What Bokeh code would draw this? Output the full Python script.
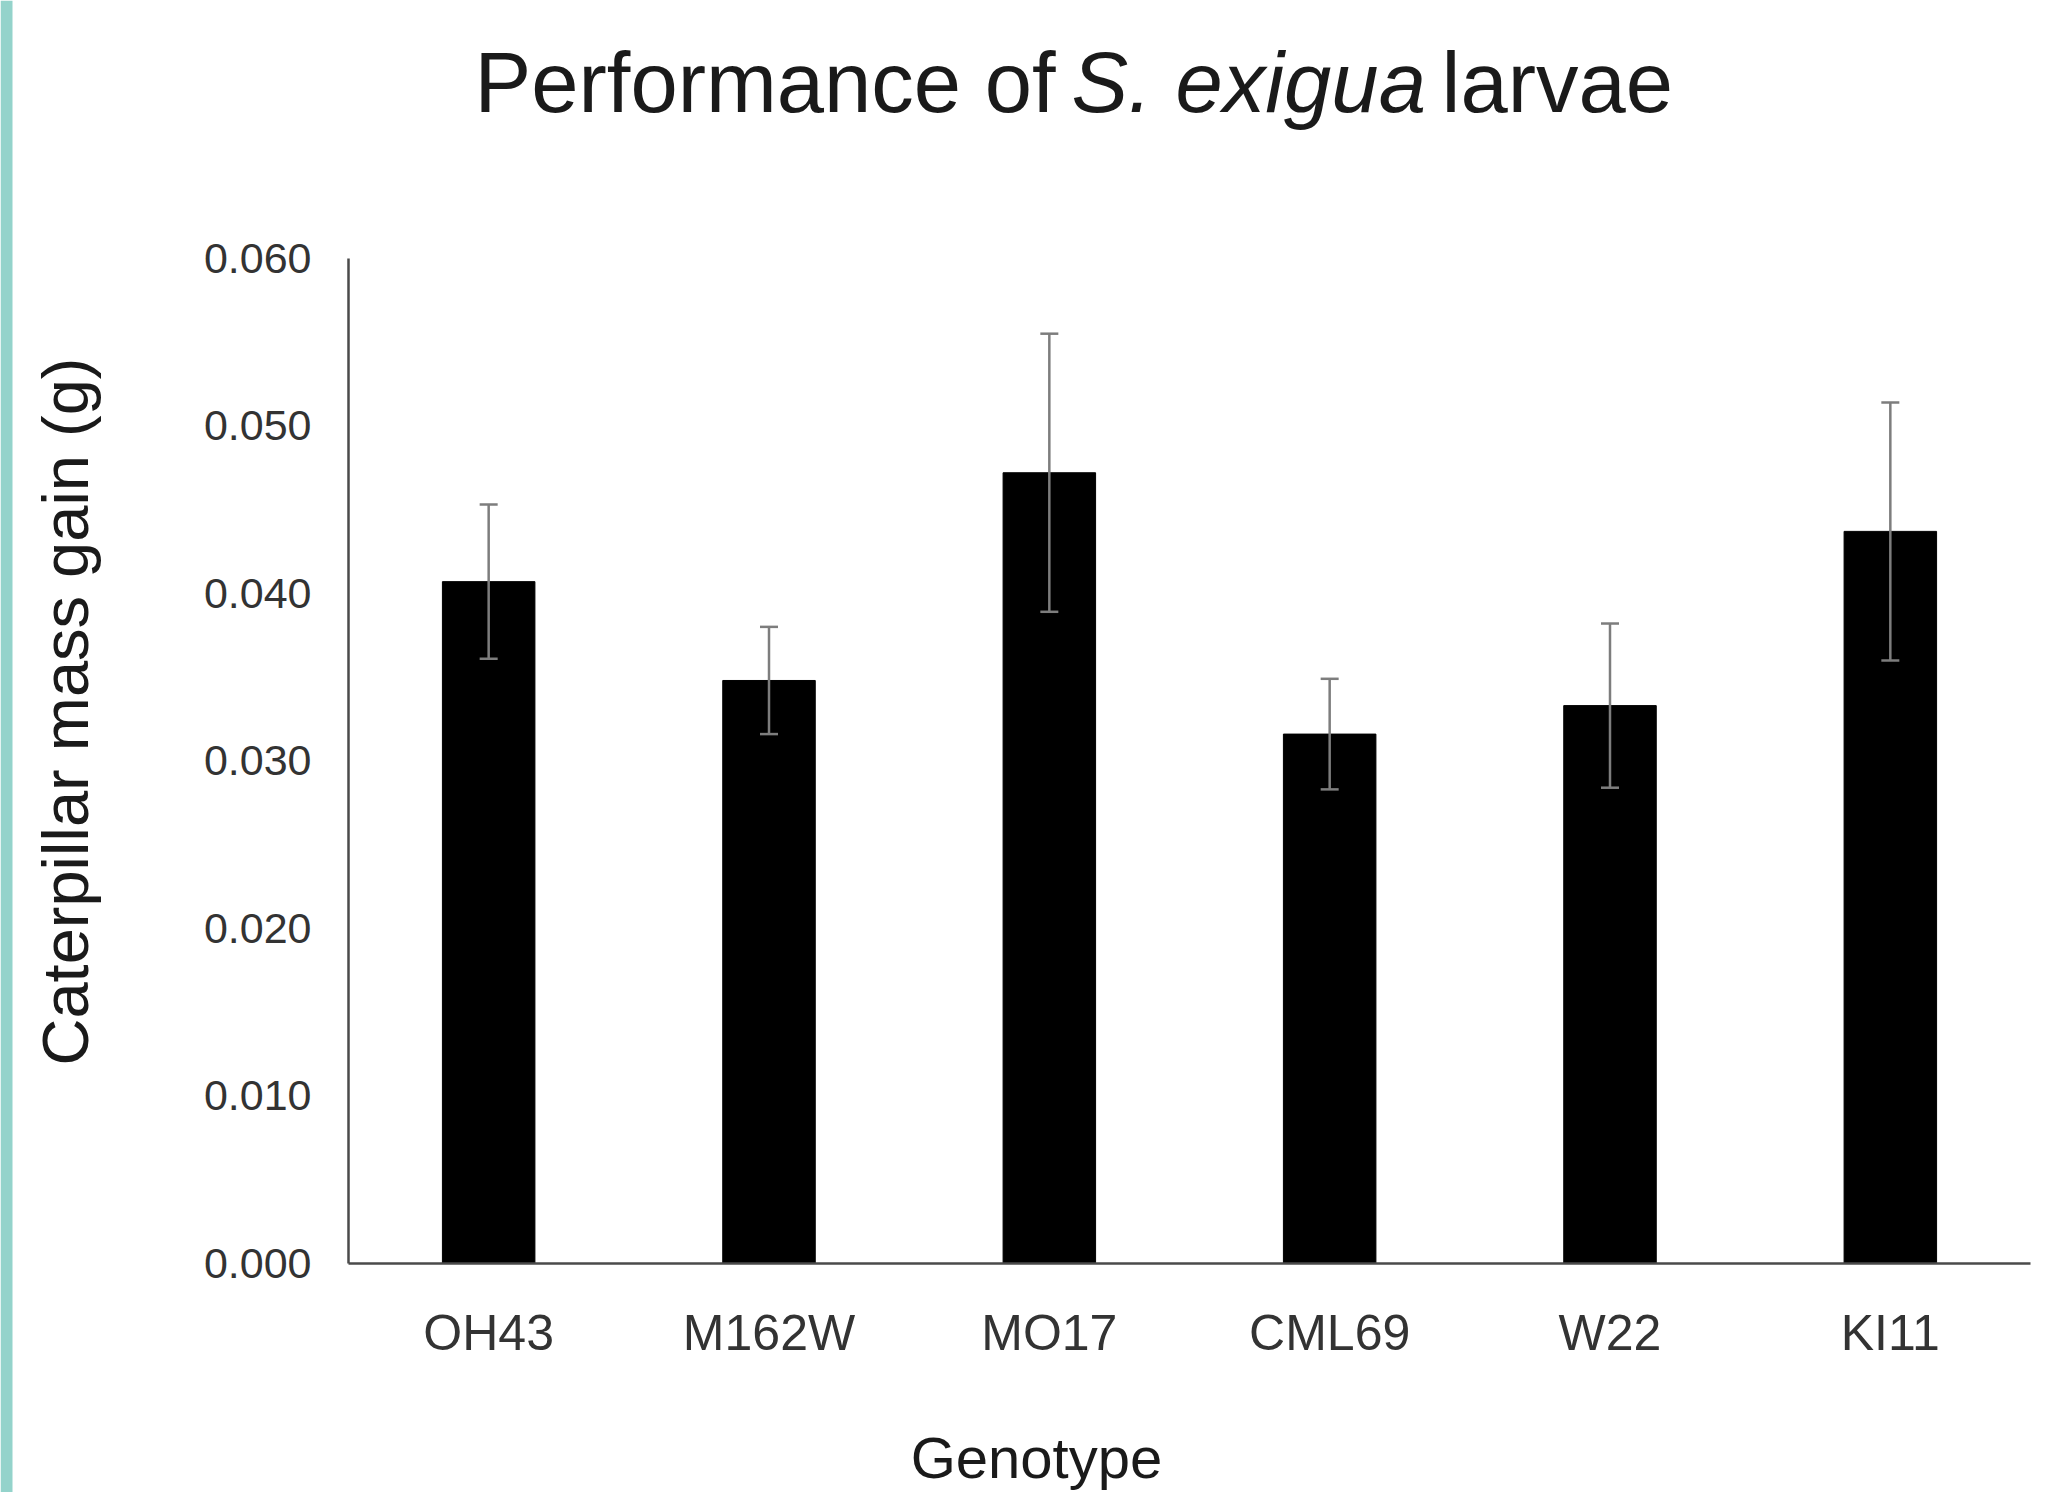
from math import pi
from bokeh.plotting import figure
from bokeh.layouts import row, column
from bokeh.models import (FactorRange, Range1d, FixedTicker, PrintfTickFormatter,
                          Whisker, ColumnDataSource, Label, TeeHead, BoxAnnotation)
from bokeh.embed import file_html
from bokeh.resources import INLINE

# ---- data ----
genotypes = ["OH43", "M162W", "MO17", "CML69", "W22", "KI11"]
mass_gain = [0.0407, 0.0348, 0.0472, 0.0316, 0.0333, 0.0437]
std_err = [0.0046, 0.0032, 0.0083, 0.0033, 0.0049, 0.0077]
y_ticks = [0.0, 0.01, 0.02, 0.03, 0.04, 0.05, 0.06]

upper = [m + e for m, e in zip(mass_gain, std_err)]
lower = [m - e for m, e in zip(mass_gain, std_err)]
src = ColumnDataSource(dict(g=genotypes, v=mass_gain, up=upper, lo=lower))

FONT = "Liberation Sans"
TEXT_DARK = "#1a1a1a"

# ---- layout geometry (page pixels) ----
PAGE_W, PAGE_H = 2047, 1492
LEFT_W = 200                      # left figure (teal bar + y-axis title)
AX_LEFT, AX_RIGHT, AX_BOTTOM, Y060 = 347, 2030, 1264, 258
y_top = y_ticks[-1] * AX_BOTTOM / (AX_BOTTOM - Y060)

# left figure: teal side bar and rotated y-axis title
left = figure(width=LEFT_W, height=PAGE_H, toolbar_location=None, output_backend="svg",
              x_axis_location=None, y_axis_location=None, min_border=0,
              x_range=Range1d(0, 1), y_range=Range1d(0, 1),
              background_fill_color="white", border_fill_color="white",
              outline_line_color=None)
left.grid.visible = False
left.add_layout(BoxAnnotation(left=0, right=12, left_units="screen", right_units="screen",
                              fill_color="#94d3cb", fill_alpha=1.0, line_color=None))
left.add_layout(Label(x=65, y=PAGE_H - 711, x_units="screen", y_units="screen",
                      text="Caterpillar mass gain (g)", angle=pi / 2,
                      text_font=FONT, text_font_size="65px", text_color=TEXT_DARK,
                      text_align="center", text_baseline="alphabetic"))

# main plot
p = figure(x_range=FactorRange(*genotypes, range_padding=0),
           y_range=Range1d(0, y_top),
           width=PAGE_W - LEFT_W, height=PAGE_H,
           output_backend="svg", toolbar_location=None,
           min_border_left=AX_LEFT - LEFT_W, min_border_right=PAGE_W - AX_RIGHT,
           min_border_top=0, min_border_bottom=PAGE_H - AX_BOTTOM)

p.vbar(x="g", top="v", width=0.33, bottom=0, source=src,
       fill_color="black", line_color="black")

wk = Whisker(source=src, base="g", upper="up", lower="lo", level="overlay",
             line_color="#7d7d7d", line_width=2.5,
             upper_head=TeeHead(size=18, line_color="#7d7d7d", line_width=2.5),
             lower_head=TeeHead(size=18, line_color="#7d7d7d", line_width=2.5))
p.add_layout(wk)

p.xgrid.visible = False
p.ygrid.visible = False
p.outline_line_color = None

for ax in (p.xaxis, p.yaxis):
    ax.axis_line_color = "#4a4a4a"
    ax.axis_line_width = 2.5
    ax.major_tick_line_color = None
    ax.minor_tick_line_color = None
    ax.major_label_text_color = "#333333"
    ax.major_label_text_font = FONT

p.yaxis.bounds = (y_ticks[0], y_ticks[-1])
p.yaxis.ticker = FixedTicker(ticks=y_ticks)
p.yaxis.formatter = PrintfTickFormatter(format="%.3f")
p.yaxis.major_label_text_font_size = "43px"
p.yaxis.major_label_standoff = 31

p.xaxis.major_label_text_font_size = "50px"
p.xaxis.major_label_standoff = 35
# trailing no-break spaces shift the centred title left of the frame centre,
# as in the reference
p.xaxis.axis_label = "Genotype" + "\u00a0" * 19
p.xaxis.axis_label_text_font = FONT
p.xaxis.axis_label_text_font_style = "normal"
p.xaxis.axis_label_text_font_size = "58px"
p.xaxis.axis_label_text_color = TEXT_DARK
p.xaxis.axis_label_standoff = 61

title_parts = [("Performance of", 473, "normal"),
               ("S. exigua", 1070, "italic"),
               ("larvae", 1440, "normal")]
for txt, px, style in title_parts:
    p.add_layout(Label(x=px - AX_LEFT, y=AX_BOTTOM - 83, x_units="screen", y_units="screen",
                       text=txt, text_font=FONT, text_font_size="85px",
                       text_font_style=style, text_color=TEXT_DARK,
                       text_align="left", text_baseline="alphabetic"))

# nesting the main plot in a column keeps the left figure's frame independent
layout = row(left, column(p, spacing=0), spacing=0)
open("out.html", "w").write(file_html(layout, INLINE))
